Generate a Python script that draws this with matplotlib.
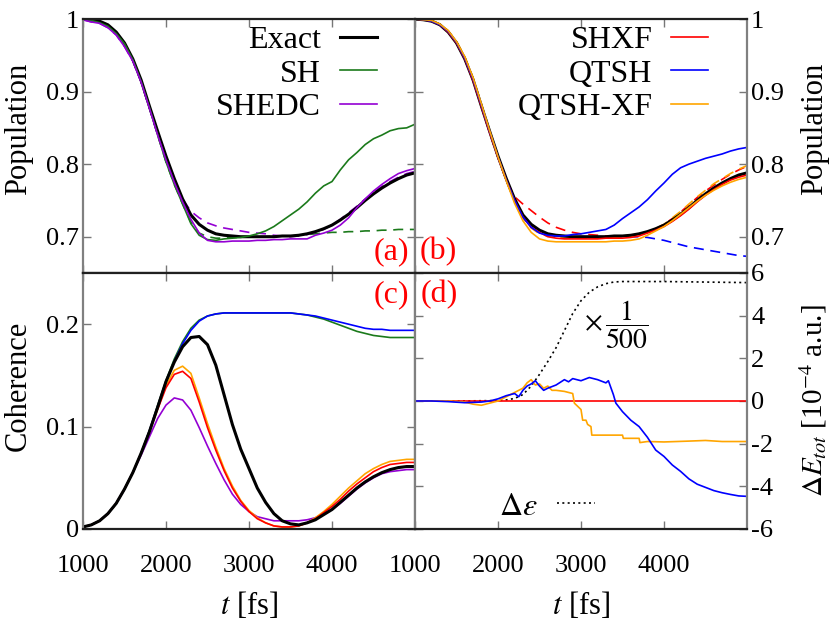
import numpy as np
import matplotlib
matplotlib.use('Agg')
import matplotlib.pyplot as plt
from matplotlib.ticker import FuncFormatter

plt.rcParams['font.family'] = ['Liberation Serif', 'DejaVu Serif']
plt.rcParams['mathtext.fontset'] = 'stix'
plt.rcParams['axes.unicode_minus'] = False

# tiempo comun (fs)
t = np.arange(1000, 5001, 100)

# ---------------- poblaciones ----------------
popExact = [1.000, 0.999, 0.997, 0.992, 0.982, 0.967, 0.945, 0.916, 0.880, 0.845,
            0.811, 0.780, 0.752, 0.730, 0.717, 0.709, 0.704, 0.702, 0.701, 0.700,
            0.700, 0.700, 0.700, 0.700, 0.701, 0.701, 0.702, 0.704, 0.707, 0.711,
            0.716, 0.723, 0.731, 0.740, 0.750, 0.759, 0.767, 0.774, 0.780, 0.785, 0.788]
popSH = [1.000, 0.998, 0.995, 0.990, 0.980, 0.966, 0.944, 0.914, 0.878, 0.840,
         0.803, 0.772, 0.745, 0.718, 0.702, 0.696, 0.695, 0.697, 0.698, 0.699,
         0.701, 0.704, 0.708, 0.714, 0.722, 0.730, 0.738, 0.748, 0.760, 0.770,
         0.776, 0.792, 0.806, 0.816, 0.827, 0.835, 0.840, 0.846, 0.849, 0.850, 0.855]
popSHd = [1.000, 0.998, 0.995, 0.990, 0.980, 0.966, 0.944, 0.914, 0.878, 0.840,
          0.803, 0.772, 0.745, 0.720, 0.705, 0.700, 0.698, 0.698, 0.699, 0.699,
          0.700, 0.700, 0.700, 0.701, 0.701, 0.701, 0.702, 0.703, 0.704, 0.705,
          0.706, 0.706, 0.707, 0.707, 0.708, 0.708, 0.709, 0.709, 0.710, 0.710, 0.710]
popSHEDC = [0.999, 0.996, 0.994, 0.988, 0.978, 0.962, 0.942, 0.913, 0.877, 0.840,
            0.806, 0.775, 0.748, 0.724, 0.705, 0.695, 0.693, 0.693, 0.694, 0.694,
            0.694, 0.695, 0.695, 0.696, 0.696, 0.697, 0.697, 0.697, 0.702, 0.705,
            0.709, 0.716, 0.726, 0.740, 0.752, 0.763, 0.772, 0.780, 0.787, 0.791, 0.794]
popSHEDCd = [0.999, 0.996, 0.994, 0.988, 0.978, 0.962, 0.942, 0.913, 0.877, 0.840,
             0.806, 0.776, 0.752, 0.735, 0.726, 0.719, 0.715, 0.712, 0.710, 0.708,
             0.706, 0.705, 0.704, 0.702, 0.701, 0.700, 0.701, 0.703, 0.706, 0.710,
             0.716, 0.724, 0.733, 0.742, 0.752, 0.761, 0.769, 0.776, 0.782, 0.787, 0.790]
popSHXF = [1.000, 0.999, 0.997, 0.992, 0.982, 0.967, 0.945, 0.915, 0.879, 0.843,
           0.809, 0.778, 0.750, 0.727, 0.713, 0.706, 0.700, 0.698, 0.697, 0.697,
           0.697, 0.697, 0.697, 0.698, 0.698, 0.698, 0.699, 0.701, 0.705, 0.709,
           0.714, 0.721, 0.729, 0.738, 0.748, 0.757, 0.765, 0.772, 0.778, 0.782, 0.785]
popSHXFd = [1.000, 0.999, 0.997, 0.992, 0.982, 0.967, 0.945, 0.915, 0.879, 0.843,
            0.809, 0.778, 0.755, 0.745, 0.736, 0.727, 0.719, 0.713, 0.709, 0.706,
            0.704, 0.703, 0.702, 0.701, 0.701, 0.701, 0.702, 0.704, 0.707, 0.711,
            0.717, 0.725, 0.734, 0.744, 0.754, 0.763, 0.771, 0.779, 0.786, 0.792, 0.797]
popQTSH = [1.000, 0.999, 0.997, 0.992, 0.983, 0.968, 0.946, 0.917, 0.881, 0.845,
           0.810, 0.778, 0.750, 0.727, 0.713, 0.705, 0.702, 0.701, 0.701, 0.703,
           0.704, 0.706, 0.708, 0.710, 0.716, 0.725, 0.733, 0.741, 0.751, 0.763,
           0.774, 0.786, 0.795, 0.800, 0.804, 0.808, 0.811, 0.814, 0.818, 0.821, 0.823]
popQTSHd = [1.000, 0.999, 0.997, 0.992, 0.983, 0.968, 0.946, 0.917, 0.881, 0.845,
            0.810, 0.778, 0.750, 0.727, 0.713, 0.705, 0.702, 0.701, 0.700, 0.700,
            0.700, 0.700, 0.700, 0.700, 0.700, 0.700, 0.700, 0.700, 0.699, 0.697,
            0.695, 0.692, 0.689, 0.686, 0.684, 0.682, 0.680, 0.678, 0.676, 0.674, 0.673]
popQTXF = [1.000, 0.999, 0.998, 0.993, 0.984, 0.969, 0.948, 0.919, 0.883, 0.846,
           0.810, 0.777, 0.746, 0.722, 0.706, 0.697, 0.694, 0.693, 0.693, 0.693,
           0.693, 0.693, 0.693, 0.693, 0.694, 0.694, 0.695, 0.697, 0.702, 0.708,
           0.714, 0.722, 0.731, 0.740, 0.749, 0.757, 0.764, 0.770, 0.775, 0.779, 0.782]
popQTXFd = [1.000, 0.999, 0.998, 0.993, 0.984, 0.969, 0.948, 0.919, 0.883, 0.846,
            0.810, 0.777, 0.748, 0.726, 0.712, 0.704, 0.701, 0.699, 0.698, 0.698,
            0.698, 0.698, 0.698, 0.698, 0.699, 0.699, 0.700, 0.702, 0.706, 0.711,
            0.717, 0.726, 0.735, 0.745, 0.755, 0.764, 0.773, 0.780, 0.787, 0.793, 0.798]

# ---------------- coherencias ----------------
cohExact = [0.002, 0.004, 0.008, 0.015, 0.025, 0.039, 0.055, 0.074, 0.095, 0.119,
            0.144, 0.163, 0.178, 0.187, 0.188, 0.180, 0.160, 0.131, 0.102, 0.078,
            0.059, 0.040, 0.026, 0.015, 0.008, 0.005, 0.004, 0.006, 0.009, 0.014,
            0.019, 0.026, 0.033, 0.040, 0.046, 0.051, 0.055, 0.058, 0.060, 0.061, 0.061]
cohSH = [0.002, 0.004, 0.008, 0.015, 0.025, 0.039, 0.055, 0.074, 0.096, 0.121,
         0.145, 0.166, 0.183, 0.196, 0.204, 0.208, 0.210, 0.211, 0.211, 0.211,
         0.211, 0.211, 0.211, 0.211, 0.211, 0.211, 0.210, 0.209, 0.207, 0.205,
         0.202, 0.199, 0.196, 0.193, 0.191, 0.189, 0.188, 0.187, 0.187, 0.187, 0.187]
cohQTSH = [0.002, 0.004, 0.008, 0.015, 0.025, 0.039, 0.055, 0.074, 0.096, 0.120,
           0.144, 0.164, 0.181, 0.194, 0.203, 0.208, 0.210, 0.211, 0.211, 0.211,
           0.211, 0.211, 0.211, 0.211, 0.211, 0.211, 0.210, 0.209, 0.208, 0.206,
           0.204, 0.202, 0.200, 0.198, 0.196, 0.195, 0.195, 0.194, 0.194, 0.194, 0.194]
cohSHEDC = [0.002, 0.004, 0.008, 0.015, 0.025, 0.039, 0.055, 0.072, 0.090, 0.108,
            0.121, 0.128, 0.126, 0.116, 0.099, 0.081, 0.064, 0.048, 0.034, 0.024,
            0.017, 0.012, 0.010, 0.008, 0.008, 0.008, 0.008, 0.009, 0.011, 0.015,
            0.019, 0.025, 0.032, 0.039, 0.045, 0.050, 0.054, 0.056, 0.057, 0.058, 0.058]
cohSHXF = [0.002, 0.004, 0.008, 0.015, 0.025, 0.039, 0.055, 0.074, 0.095, 0.117,
           0.138, 0.151, 0.154, 0.147, 0.124, 0.099, 0.077, 0.057, 0.040, 0.027,
           0.017, 0.010, 0.006, 0.003, 0.002, 0.002, 0.003, 0.006, 0.010, 0.016,
           0.022, 0.029, 0.037, 0.044, 0.050, 0.056, 0.060, 0.063, 0.064, 0.065, 0.065]
cohQTXF = [0.002, 0.004, 0.008, 0.015, 0.025, 0.039, 0.055, 0.074, 0.095, 0.118,
           0.140, 0.155, 0.159, 0.152, 0.128, 0.103, 0.080, 0.059, 0.042, 0.028,
           0.018, 0.011, 0.006, 0.003, 0.002, 0.002, 0.003, 0.006, 0.011, 0.017,
           0.024, 0.032, 0.040, 0.047, 0.054, 0.059, 0.063, 0.066, 0.067, 0.068, 0.068]

# ---------------- energia (10^-4 a.u.) ----------------
tEps = [1000, 1500, 2000, 2100, 2200, 2300, 2400, 2500, 2600, 2700, 2800, 2900,
        3000, 3100, 3200, 3300, 3400, 3500, 4000, 5000]
dEps = [0.0, 0.0, 0.02, 0.05, 0.12, 0.3, 0.7, 1.25, 1.85, 2.5, 3.3, 4.1,
        4.7, 5.1, 5.35, 5.5, 5.58, 5.6, 5.6, 5.55]
tEqt = [1000, 1200, 1400, 1600, 1800, 1900, 2000, 2100, 2200, 2250, 2300, 2350,
        2400, 2450, 2500, 2550, 2600, 2700, 2800, 2850, 2900, 3000, 3100, 3200,
        3300, 3330, 3390, 3420, 3500, 3600, 3700, 3800, 3900, 4000, 4100, 4200,
        4300, 4400, 4500, 4600, 4700, 4800, 4900, 5000]
dEqt = [0.0, 0.0, -0.03, -0.08, -0.05, 0.0, 0.1, 0.25, 0.35, 0.2, 0.5, 0.7,
        0.8, 0.95, 0.7, 0.5, 0.6, 0.75, 1.0, 0.9, 1.05, 0.95, 1.1, 1.0,
        0.85, 0.95, 0.3, -0.1, -0.5, -0.9, -1.2, -1.7, -2.3, -2.6, -3.0, -3.3,
        -3.65, -3.9, -4.05, -4.2, -4.3, -4.38, -4.45, -4.47]
tEqx = [1000, 1400, 1600, 1700, 1800, 1900, 2000, 2100, 2200, 2300, 2350, 2400,
        2450, 2500, 2550, 2600, 2650, 2700, 2800, 2900, 2920, 3000, 3020, 3060,
        3080, 3120, 3130, 3500, 3510, 3700, 3710, 3800, 4000, 4300, 4500, 4700, 5000]
dEqx = [0.0, 0.0, -0.05, -0.15, -0.2, -0.1, 0.0, 0.2, 0.4, 0.6, 0.85, 1.0,
        0.75, 0.8, 0.6, 0.7, 0.5, 0.5, 0.45, 0.35, -0.1, -0.4, -0.9, -0.9,
        -1.1, -1.2, -1.6, -1.6, -1.75, -1.75, -1.95, -1.9, -1.92, -1.88, -1.85, -1.9, -1.9]
tExf = [1000, 5000]
dExf = [0.0, 0.0]

cBlack = 'black'
cGreen = '#1b7a1b'
cPurple = '#9400d3'
cRed = '#ff0000'
cBlue = '#0000ff'
cOrange = '#ffa500'
lw = 1.2
lwEx = 2.2
dash = (0, (6, 4))

fig = plt.figure(figsize=(8.3, 6.23), dpi=100)
L, M, R = 0.1, 0.5, 0.9
B, H, T = 0.1509, 0.5618, 0.9695
axA = fig.add_axes([L, H, M - L, T - H])
axB = fig.add_axes([M, H, R - M, T - H])
axC = fig.add_axes([L, B, M - L, H - B])
axD = fig.add_axes([M, B, R - M, H - B])

fsTick = 19
fsLab = 22
fsLeg = 23
fmt = FuncFormatter(lambda v, p: '%g' % v)

for ax in [axA, axB, axC, axD]:
    ax.set_xlim(1000, 5000)
    ax.set_xticks([1000, 2000, 3000, 4000])
    ax.tick_params(direction='in', top=True, right=True, length=6, width=1,
                   color='#777777', labelsize=fsTick)
    ax.tick_params(axis='x', pad=19)
    ax.tick_params(axis='y', pad=3)
    for s in ['left', 'right']:
        ax.spines[s].set_color('#808080')
        ax.spines[s].set_linewidth(1.6)
    for s in ['top', 'bottom']:
        ax.spines[s].set_color('#202020')
        ax.spines[s].set_linewidth(1.6)

legKw = dict(loc='upper right', frameon=False, markerfirst=False, fontsize=fsLeg,
             handlelength=1.15, labelspacing=0.14, borderaxespad=0, borderpad=0,
             handletextpad=0.6)

# (a)
axA.plot(t, popSHd, color=cGreen, lw=lw, ls=dash)
axA.plot(t, popSHEDCd, color=cPurple, lw=lw, ls=dash)
axA.plot(t, popExact, color=cBlack, lw=lwEx, label='Exact')
axA.plot(t, popSH, color=cGreen, lw=lw, label='SH')
axA.plot(t, popSHEDC, color=cPurple, lw=lw, label='SHEDC')
axA.set_ylim(0.65, 1.0)
axA.set_yticks([0.7, 0.8, 0.9, 1.0])
axA.yaxis.set_major_formatter(fmt)
axA.tick_params(labelbottom=False)
axA.set_ylabel('Population', fontsize=fsLab)
axA.yaxis.set_label_coords(-0.15, 0.567)
axA.legend(bbox_to_anchor=(0.886, 0.975), **legKw)

# (b)
axB.plot(t, popSHXFd, color=cRed, lw=lw, ls=dash)
axB.plot(t, popQTSHd, color=cBlue, lw=lw, ls=dash)
axB.plot(t, popQTXFd, color=cOrange, lw=lw, ls=dash)
axB.plot(t, popExact, color=cBlack, lw=lwEx)
axB.plot(t, popSHXF, color=cRed, lw=lw, label='SHXF')
axB.plot(t, popQTSH, color=cBlue, lw=lw, label='QTSH')
axB.plot(t, popQTXF, color=cOrange, lw=lw, label='QTSH-XF')
axB.set_ylim(0.65, 1.0)
axB.set_yticks([0.7, 0.8, 0.9, 1.0])
axB.yaxis.set_major_formatter(fmt)
axB.tick_params(labelbottom=False, labelleft=False, labelright=True)
axB.yaxis.set_label_position('right')
axB.set_ylabel('Population', fontsize=fsLab)
axB.yaxis.set_label_coords(1.16, 0.567)
axB.legend(bbox_to_anchor=(0.883, 0.975), **legKw)

# (c)
axC.plot(t, cohSH, color=cGreen, lw=lw)
axC.plot(t, cohQTSH, color=cBlue, lw=lw)
axC.plot(t, cohSHEDC, color=cPurple, lw=lw)
axC.plot(t, cohQTXF, color=cOrange, lw=lw)
axC.plot(t, cohSHXF, color=cRed, lw=lw)
axC.plot(t, cohExact, color=cBlack, lw=lwEx)
axC.set_ylim(0, 0.25)
axC.set_yticks([0, 0.1, 0.2])
axC.yaxis.set_major_formatter(fmt)
axC.set_ylabel('Coherence', fontsize=fsLab)
axC.yaxis.set_label_coords(-0.15, 0.559)
axC.set_xlabel(r'$t$ [fs]', fontsize=fsLab, labelpad=9)

# (d)
axD.plot(tEps, dEps, color=cBlack, lw=1.2, ls=(0, (1.2, 2.0)), label=r'$\Delta\varepsilon$')
axD.plot(tExf, dExf, color=cRed, lw=lw)
axD.plot(tEqx, dEqx, color=cOrange, lw=lw)
axD.plot(tEqt, dEqt, color=cBlue, lw=lw)
axD.set_ylim(-6, 6)
axD.set_yticks([-6, -4, -2, 0, 2, 4, 6])
axD.tick_params(labelleft=False, labelright=True)
axD.yaxis.set_label_position('right')
axD.set_ylabel(r'$\Delta E_{tot}$ [10$^{-4}$ a.u.]', fontsize=fsLab - 1)
axD.yaxis.set_label_coords(1.152, 0.5)
axD.set_xlabel(r'$t$ [fs]', fontsize=fsLab, labelpad=9)
axD.text(3040, 3.6, r'$\times\,\dfrac{1}{500}$', fontsize=fsTick + 1, ha='left', va='center')
axD.legend(loc='center right', frameon=False, markerfirst=False, fontsize=fsLeg,
           handlelength=1.2, handletextpad=0.6, borderpad=0, borderaxespad=0,
           bbox_to_anchor=(0.542, 0.086))

for ax, lab, x, y in [(axA, '(a)', 0.93, 0.083), (axB, '(b)', 0.07, 0.083),
                      (axC, '(c)', 0.93, 0.914), (axD, '(d)', 0.072, 0.914)]:
    ax.text(x, y, lab, transform=ax.transAxes, color='red', fontsize=fsLeg,
            ha='center', va='center')

fig.savefig('out.png', dpi=100)
